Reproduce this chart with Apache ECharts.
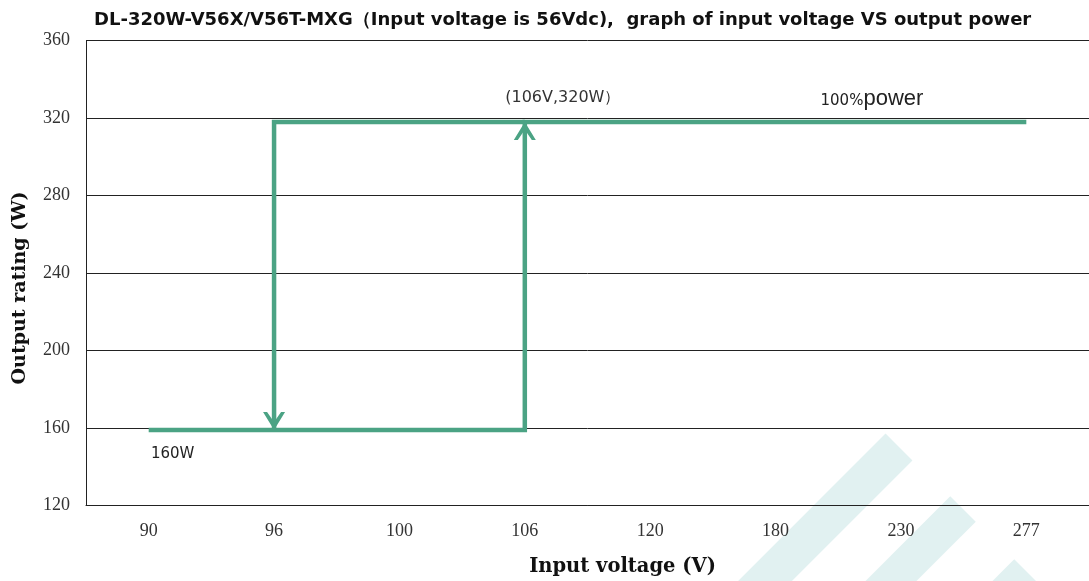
<!DOCTYPE html>
<html>
<head>
<meta charset="utf-8">
<script src="https://cdn.jsdelivr.net/npm/echarts@6/dist/echarts.min.js"></script>
<style>html,body{margin:0;padding:0;background:#fff;}#c{width:1089px;height:581px;}</style>
</head>
<body>
<div id="c"></div>
<script>
// ---- data ----
const categories = ['90', '96', '100', '106', '120', '180', '230', '277'];
const yTicks = { min: 120, max: 360, interval: 40 };
// main path: 160W from 90V to 106V, step up at 106V, 320W to 277V
const mainPath = [['90', 159], ['106', 159], ['106', 318], ['277', 318]];
// return path: step down at 96V
const returnPath = [['106', 318], ['96', 318], ['96', 159]];
const arrowDown = ['96', 159];
const arrowUp = ['106', 318];
const titleText = 'DL-320W-V56X/V56T-MXG（Input voltage is 56Vdc),  graph of input voltage VS output power';

const green = '#4ba384';
const chart = echarts.init(document.getElementById('c'));
const chevDown = 'path://M0,0 L4,0 L11,9 L18,0 L22,0 L11,16 Z';
const chevUp = 'path://M0,16 L4,16 L11,7 L18,16 L22,16 L11,0 Z';
const wm = '#e1f1f1';

chart.setOption({
  animation: false,
  backgroundColor: '#fff',
  title: {
    text: titleText,
    left: 89, top: 6,
    textStyle: { fontFamily: 'DejaVu Sans', fontWeight: 'bold', fontSize: 18, color: '#111' }
  },
  grid: { left: 86, right: 0, top: 40.5, bottom: 75.5, containLabel: false, outerBoundsMode: 'none' },
  xAxis: {
    type: 'category',
    data: categories,
    boundaryGap: true,
    axisLine: { lineStyle: { color: '#222', width: 1 } },
    axisTick: { show: false },
    axisLabel: { fontFamily: 'Liberation Serif', fontSize: 18, color: '#333', margin: 17 },
    name: 'Input voltage (V)',
    nameLocation: 'middle',
    nameGap: 51,
    nameTextStyle: { fontFamily: 'DejaVu Serif', fontWeight: 'bold', fontSize: 19.5, color: '#111', padding: [0, 0, 0, 70] }
  },
  yAxis: {
    type: 'value',
    min: yTicks.min, max: yTicks.max, interval: yTicks.interval,
    axisLine: { show: true, lineStyle: { color: '#222', width: 1 } },
    axisTick: { show: false },
    splitLine: { lineStyle: { color: '#222', width: 1 } },
    axisLabel: { fontFamily: 'Liberation Serif', fontSize: 18, color: '#333', margin: 16 },
    name: 'Output rating (W)',
    nameLocation: 'middle',
    nameGap: 56,
    nameTextStyle: { fontFamily: 'DejaVu Serif', fontWeight: 'bold', fontSize: 19, color: '#111', padding: [0, 30, 0, 0] }
  },
  graphic: [
    { type: 'line', z: -1, shape: { x1: 899, y1: 447, x2: 720, y2: 626 }, style: { stroke: wm, lineWidth: 38, lineCap: 'butt' } },
    { type: 'line', z: -1, shape: { x1: 963, y1: 509, x2: 870, y2: 602 }, style: { stroke: wm, lineWidth: 36, lineCap: 'butt' } },
    { type: 'line', z: -1, shape: { x1: 1027, y1: 572, x2: 1000, y2: 599 }, style: { stroke: wm, lineWidth: 36, lineCap: 'butt' } }
  ],
  series: [
    {
      type: 'line',
      data: mainPath,
      symbol: 'none',
      lineStyle: { color: green, width: 4.5, cap: 'butt', join: 'miter' },
      z: 5,
      markPoint: {
        symbol: chevUp, symbolSize: [22, 18], symbolOffset: [0, 9],
        itemStyle: { color: green },
        label: { show: false },
        data: [{ coord: arrowUp }]
      }
    },
    {
      type: 'line',
      data: returnPath,
      symbol: 'none',
      lineStyle: { color: green, width: 4.5, cap: 'butt', join: 'miter' },
      z: 5,
      markPoint: {
        symbol: chevDown, symbolSize: [22, 18], symbolOffset: [0, -9],
        itemStyle: { color: green },
        label: { show: false },
        data: [{ coord: arrowDown }]
      }
    },
    {
      type: 'line',
      data: [],
      markPoint: {
        symbol: 'circle', symbolSize: 0,
        data: [
          { coord: ['106', 320], label: { show: true, formatter: '(106V,320W）', offset: [38, -20], fontFamily: 'DejaVu Sans', fontSize: 16, color: '#333' } },
          { coord: ['230', 320], label: { show: true, formatter: '{a|100%}{b|power}', offset: [-29, -19], rich: { a: { fontFamily: 'DejaVu Sans', fontSize: 15, color: '#222', padding: [4, 0, 0, 0] }, b: { fontFamily: 'Liberation Sans', fontSize: 22, color: '#222' } } } },
          { coord: ['90', 160], label: { show: true, formatter: '160W', offset: [24, 26], fontFamily: 'DejaVu Sans', fontSize: 15, color: '#222' } }
        ]
      }
    }
  ]
});
</script>
</body>
</html>
